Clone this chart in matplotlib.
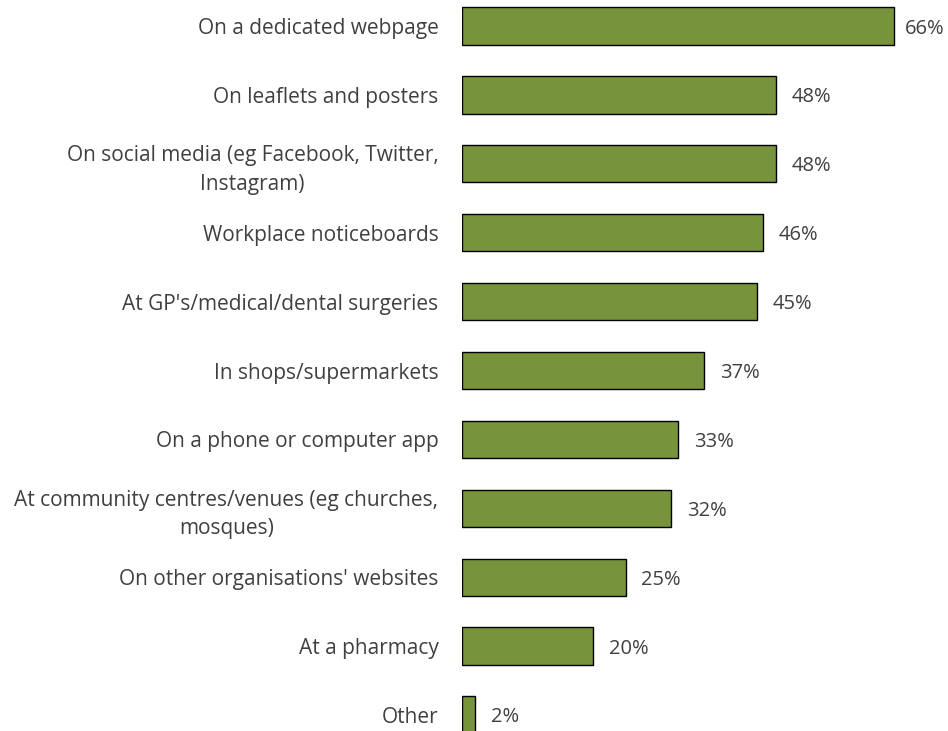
import matplotlib
matplotlib.use("Agg")
import matplotlib.pyplot as plt

categories = [
    "On a dedicated webpage",
    "On leaflets and posters",
    "On social media (eg Facebook, Twitter,\nInstagram)",
    "Workplace noticeboards",
    "At GP's/medical/dental surgeries",
    "In shops/supermarkets",
    "On a phone or computer app",
    "At community centres/venues (eg churches,\nmosques)",
    "On other organisations' websites",
    "At a pharmacy",
    "Other",
]
values = [66, 48, 48, 46, 45, 37, 33, 32, 25, 20, 2]

plt.rcParams["font.family"] = ["Open Sans", "DejaVu Sans"]

fig = plt.figure(figsize=(9.48, 7.31), dpi=100)
ax = fig.add_axes([462 / 948, 0, 1 - 462 / 948, 1])

ypos = list(range(len(categories)))
ax.barh(ypos, values, height=0.54, color="#77933C", edgecolor="#000000", linewidth=1.0)

xmax = (948 - 462) / 6.545
ax.set_xlim(0, xmax)
ax.set_ylim((731 - 26) / 68.9, -26 / 68.9)

# value labels sit just right of each bar, kept inside the figure
for y, v in zip(ypos, values):
    x = min(v + 2.4, xmax - 6.6)
    ax.text(x, y, f"{v}%", va="center_baseline", ha="left", fontsize=14.5, color="#404040")

ax.set_yticks(ypos)
ax.set_yticklabels(categories, fontsize=15, color="#404040",
                   multialignment="center", linespacing=1.45)
ax.tick_params(axis="y", length=0, pad=17)
ax.set_xticks([])
for s in ax.spines.values():
    s.set_visible(False)

fig.savefig("out.png", dpi=100)
